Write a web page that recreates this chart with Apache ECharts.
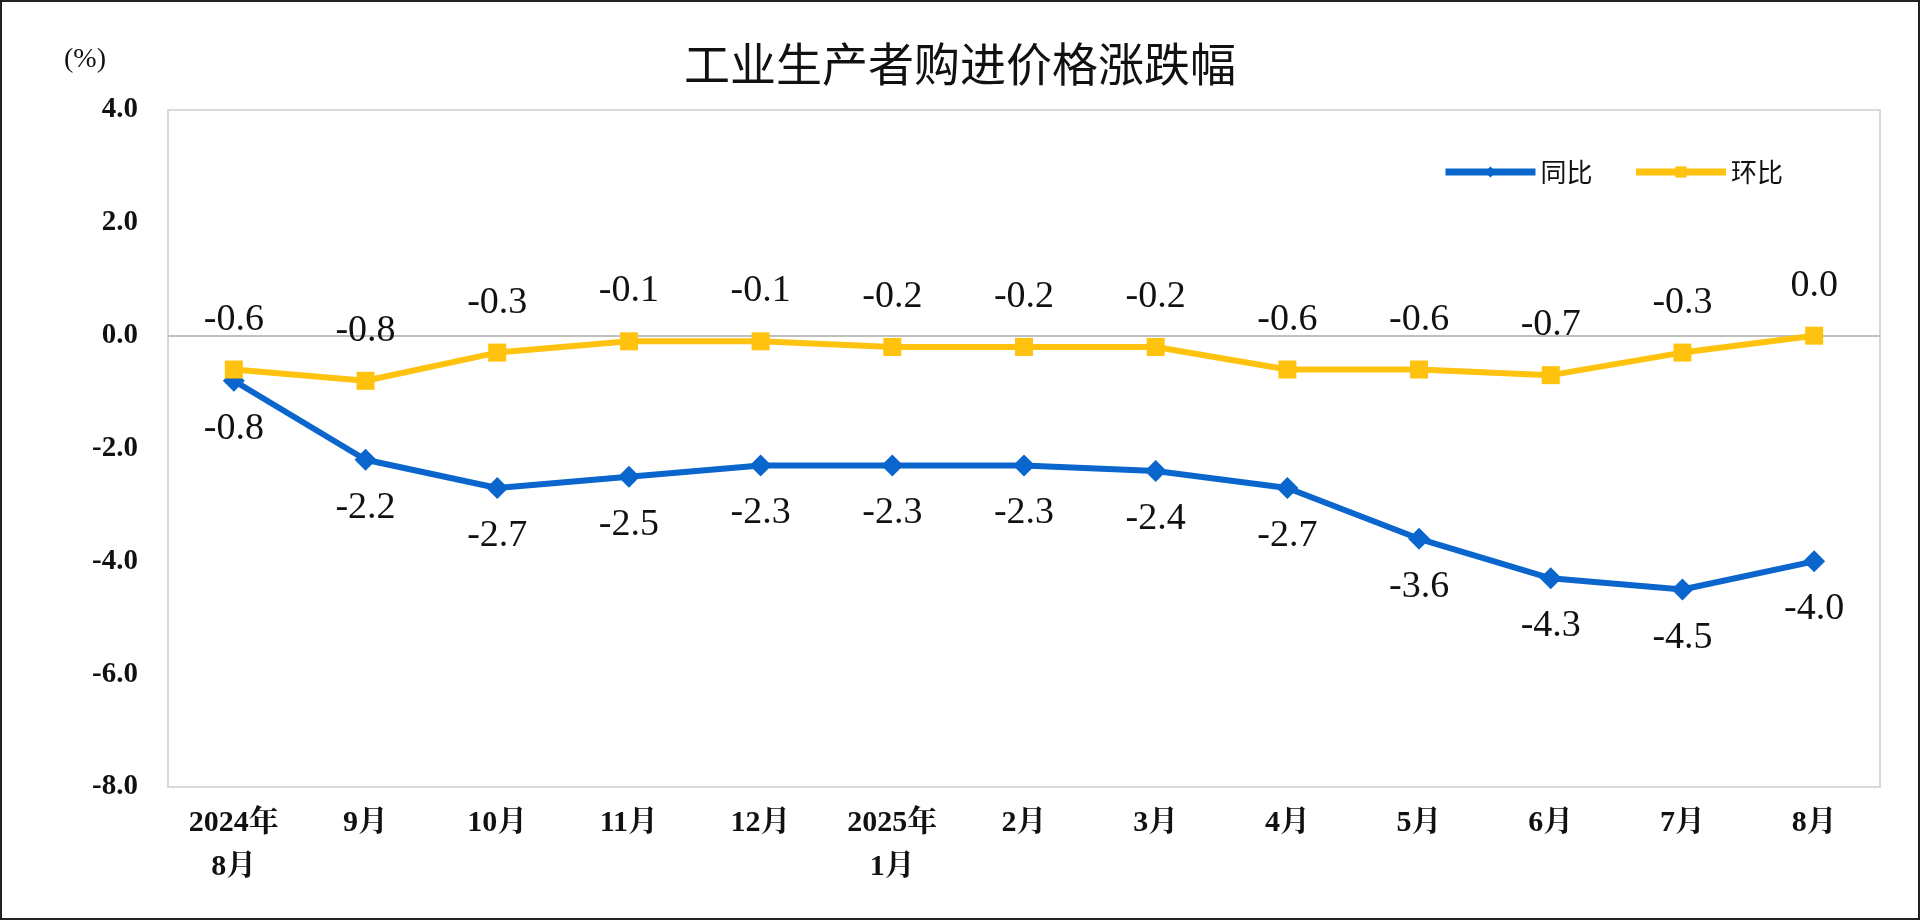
<!DOCTYPE html><html><head><meta charset="utf-8">
<script src="https://cdn.jsdelivr.net/npm/echarts@6/dist/echarts.min.js"></script>
<style>html,body{margin:0;padding:0;background:#fff}#c{position:absolute;left:0;top:0;width:1916px;height:916px;border:2px solid #222}</style>
</head><body><div id="c"></div><script>
const categories=['2024年\n8月','9月','10月','11月','12月','2025年\n1月','2月','3月','4月','5月','6月','7月','8月'];
const yoy=[-0.8,-2.2,-2.7,-2.5,-2.3,-2.3,-2.3,-2.4,-2.7,-3.6,-4.3,-4.5,-4.0];
const mom=[-0.6,-0.8,-0.3,-0.1,-0.1,-0.2,-0.2,-0.2,-0.6,-0.6,-0.7,-0.3,0.0];
const chart=echarts.init(document.getElementById('c'));
const lblFont={fontFamily:'Liberation Serif, Noto Serif CJK SC, serif',fontSize:38,color:'#111',formatter:p=>p.value.toFixed(1)};
chart.setOption({
 title:{text:'工业生产者购进价格涨跌幅',left:'center',top:34,textStyle:{fontFamily:'Noto Sans CJK SC',fontSize:46,fontWeight:'normal',color:'#111'}},
 graphic:[{type:'text',left:62,top:44,style:{text:'(%)',fontFamily:'Liberation Serif',fontSize:28,fill:'#111'}}],
 legend:{right:130,top:152,itemWidth:90,itemHeight:14,itemGap:40,lineStyle:{width:7},textStyle:{fontFamily:'Noto Sans CJK SC',fontSize:26,color:'#111'},data:['同比','环比']},
 grid:{left:166,right:38,top:108,bottom:131,containLabel:false,show:true,borderColor:'#d9d9d9',borderWidth:2},
 xAxis:{type:'category',data:categories,boundaryGap:true,axisLine:{onZero:false,show:false},axisTick:{show:false},
  axisLabel:{interval:0,margin:14,fontFamily:'Liberation Serif, Noto Serif CJK SC, serif',fontSize:30,fontWeight:'bold',color:'#111',lineHeight:44}},
 yAxis:{type:'value',min:-8,max:4,interval:2,axisLine:{show:false},axisTick:{show:false},splitLine:{show:false},
  axisLabel:{formatter:v=>v.toFixed(1),fontFamily:'Liberation Serif',fontSize:29,fontWeight:'bold',color:'#111',margin:30}},
 series:[
  {name:'同比',type:'line',data:yoy,symbol:'diamond',symbolSize:22,lineStyle:{color:'#0a66cc',width:6},itemStyle:{color:'#0a66cc'},
   label:{show:true,position:'bottom',distance:18,...lblFont},
   markLine:{silent:true,symbol:'none',label:{show:false},lineStyle:{color:'#bfbfbf',width:2,type:'solid'},data:[{yAxis:0}],z:1}},
  {name:'环比',type:'line',data:mom,symbol:'rect',symbolSize:18,lineStyle:{color:'#ffc20e',width:6},itemStyle:{color:'#ffc20e'},
   label:{show:true,position:'top',distance:22,...lblFont}}
 ]
});
</script></body></html>
